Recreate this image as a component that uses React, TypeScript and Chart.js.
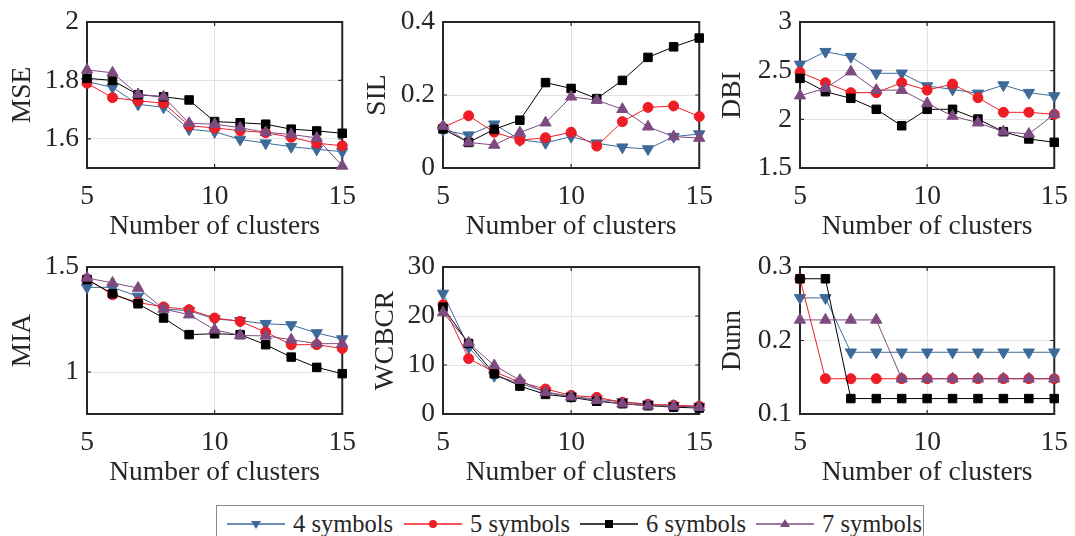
import React, { useEffect, useRef } from 'react';
import { Chart, registerables } from 'chart.js';
Chart.register(...registerables);

// ---------------- data ----------------
const clusters = [5, 6, 7, 8, 9, 10, 11, 12, 13, 14, 15];
const xTicks = [5, 10, 15];
const seriesNames = ['4 symbols', '5 symbols', '6 symbols', '7 symbols'];

const mse4 = [1.796, 1.776, 1.718, 1.708, 1.633, 1.624, 1.598, 1.585, 1.573, 1.564, 1.556];
const mse5 = [1.790, 1.741, 1.730, 1.722, 1.645, 1.637, 1.628, 1.621, 1.605, 1.585, 1.576];
const mse6 = [1.807, 1.800, 1.751, 1.744, 1.733, 1.659, 1.655, 1.650, 1.633, 1.627, 1.619];
const mse7 = [1.836, 1.826, 1.752, 1.744, 1.653, 1.650, 1.638, 1.622, 1.615, 1.603, 1.507];
const mseTicks = [1.6, 1.8, 2];

const sil4 = [0.104, 0.090, 0.120, 0.077, 0.069, 0.086, 0.068, 0.057, 0.052, 0.086, 0.093];
const sil5 = [0.111, 0.143, 0.098, 0.076, 0.083, 0.098, 0.060, 0.127, 0.166, 0.170, 0.141];
const sil6 = [0.107, 0.070, 0.106, 0.131, 0.234, 0.218, 0.190, 0.240, 0.303, 0.332, 0.356];
const sil7 = [0.115, 0.070, 0.063, 0.097, 0.124, 0.195, 0.186, 0.161, 0.113, 0.086, 0.082];
const silTicks = [0, 0.2, 0.4];

const dbi4 = [2.565, 2.695, 2.644, 2.473, 2.473, 2.342, 2.308, 2.267, 2.352, 2.274, 2.240];
const dbi5 = [2.483, 2.376, 2.274, 2.274, 2.376, 2.300, 2.363, 2.222, 2.072, 2.072, 2.051];
const dbi6 = [2.421, 2.284, 2.216, 2.103, 1.934, 2.103, 2.103, 2.003, 1.873, 1.798, 1.764];
const dbi7 = [2.243, 2.319, 2.490, 2.300, 2.300, 2.164, 2.034, 1.965, 1.873, 1.849, 2.051];
const dbiTicks = [1.5, 2, 2.5, 3];

const mia4 = [1.403, 1.403, 1.360, 1.300, 1.292, 1.252, 1.244, 1.230, 1.224, 1.186, 1.157];
const mia5 = [1.443, 1.368, 1.331, 1.310, 1.297, 1.257, 1.241, 1.190, 1.130, 1.130, 1.112];
const mia6 = [1.440, 1.373, 1.325, 1.257, 1.178, 1.182, 1.178, 1.130, 1.071, 1.022, 0.992];
const mia7 = [1.448, 1.424, 1.400, 1.300, 1.273, 1.201, 1.174, 1.172, 1.154, 1.135, 1.135];
const miaTicks = [1, 1.5];

const wcb4 = [24.6, 13.6, 7.8, 6.3, 4.5, 3.6, 3.0, 2.5, 2.0, 1.7, 1.5];
const wcb5 = [22.3, 11.3, 8.6, 6.5, 5.1, 3.8, 3.4, 2.4, 2.0, 1.8, 1.6];
const wcb6 = [21.8, 14.4, 8.2, 5.7, 4.0, 3.4, 2.6, 2.1, 1.7, 1.4, 1.2];
const wcb7 = [20.7, 14.5, 9.9, 6.9, 4.4, 3.5, 2.8, 2.1, 1.7, 1.6, 1.4];
const wcbTicks = [0, 10, 20, 30];

const dunn4 = [0.258, 0.258, 0.184, 0.184, 0.184, 0.184, 0.184, 0.184, 0.184, 0.184, 0.184];
const dunn5 = [0.284, 0.148, 0.148, 0.148, 0.148, 0.148, 0.148, 0.148, 0.148, 0.148, 0.148];
const dunn6 = [0.284, 0.284, 0.121, 0.121, 0.121, 0.121, 0.121, 0.121, 0.121, 0.121, 0.121];
const dunn7 = [0.228, 0.228, 0.228, 0.228, 0.148, 0.148, 0.148, 0.148, 0.148, 0.148, 0.148];
const dunnTicks = [0.1, 0.2, 0.3];

// ---------------- styles ----------------
const COLORS = ['#3d6a99', '#ee1c24', '#000000', '#7e4b81'];
const POINT_STYLES = ['triangle', 'circle', 'rect', 'triangle'];
const POINT_ROT = [180, 0, 0, 0];
const POINT_R = [6.5, 5, 6, 6.5];
const ORDERS = [3, 2, 1, 0];
const FONT = "'Liberation Serif', 'Times New Roman', Times, serif";
const TEXT = '#262626';
const FS = 27.5;

const Y_W = 86;
const PAD_T = 30;
const PAD_R = 24;
const X_H = 80;

type Panel = {
  label: string;
  series: number[][];
  yMin: number;
  yMax: number;
  yTicks: number[];
  left: number;
  top: number;
  w: number;
  h: number;
  gap: number;
};

const ROW1 = { top: 22, h: 146 };
const ROW2 = { top: 267, h: 147 };
const COL = [
  { left: 87, w: 260 },
  { left: 443, w: 261 },
  { left: 800, w: 259 },
];

const panels: Panel[] = [
  { label: 'MSE', series: [mse4, mse5, mse6, mse7], yMin: 1.5, yMax: 2, yTicks: mseTicks, ...COL[0], ...ROW1, gap: 64.5 },
  { label: 'SIL', series: [sil4, sil5, sil6, sil7], yMin: 0, yMax: 0.4, yTicks: silTicks, ...COL[1], ...ROW1, gap: 65 },
  { label: 'DBI', series: [dbi4, dbi5, dbi6, dbi7], yMin: 1.5, yMax: 3, yTicks: dbiTicks, ...COL[2], ...ROW1, gap: 67 },
  { label: 'MIA', series: [mia4, mia5, mia6, mia7], yMin: 0.8, yMax: 1.5, yTicks: miaTicks, ...COL[0], ...ROW2, gap: 64.5 },
  { label: 'WCBCR', series: [wcb4, wcb5, wcb6, wcb7], yMin: 0, yMax: 30, yTicks: wcbTicks, ...COL[1], ...ROW2, gap: 57.5 },
  { label: 'Dunn', series: [dunn4, dunn5, dunn6, dunn7], yMin: 0.1, yMax: 0.3, yTicks: dunnTicks, ...COL[2], ...ROW2, gap: 67 },
];

const boxPlugin = {
  id: 'matlabBox',
  beforeDatasetsDraw(chart: any) {
    const { ctx, chartArea: a, scales } = chart;
    ctx.save();
    ctx.strokeStyle = TEXT;
    ctx.lineWidth = 1.2;
    const tl = 4;
    ctx.beginPath();
    scales.x.ticks.forEach((t: any) => {
      const px = scales.x.getPixelForValue(t.value);
      if (px > a.left + 2 && px < a.right - 2) {
        ctx.moveTo(px, a.top); ctx.lineTo(px, a.top + tl);
        ctx.moveTo(px, a.bottom); ctx.lineTo(px, a.bottom - tl);
      }
    });
    scales.y.ticks.forEach((t: any) => {
      const py = scales.y.getPixelForValue(t.value);
      if (py > a.top + 2 && py < a.bottom - 2) {
        ctx.moveTo(a.left, py); ctx.lineTo(a.left + tl, py);
        ctx.moveTo(a.right, py); ctx.lineTo(a.right - tl, py);
      }
    });
    ctx.stroke();
    ctx.lineWidth = 2;
    ctx.strokeRect(a.left, a.top, a.right - a.left, a.bottom - a.top);
    ctx.restore();
  },
};

function PanelChart({ p }: { p: Panel }) {
  const ref = useRef<HTMLCanvasElement>(null);
  const cw = Y_W + p.w + PAD_R;
  const ch = PAD_T + p.h + X_H;
  useEffect(() => {
    if (!ref.current) return;
    const datasets = p.series.map((s, i) => ({
      label: seriesNames[i],
      data: clusters.map((c, j) => ({ x: c, y: s[j] })),
      borderColor: COLORS[i],
      backgroundColor: COLORS[i],
      pointBackgroundColor: COLORS[i],
      pointBorderColor: COLORS[i],
      borderWidth: 1,
      pointBorderWidth: 1,
      pointStyle: POINT_STYLES[i],
      pointRotation: POINT_ROT[i],
      pointRadius: POINT_R[i],
      order: ORDERS[i],
      clip: false as any,
      tension: 0,
    }));
    const chart = new Chart(ref.current, {
      type: 'line',
      data: { datasets },
      plugins: [boxPlugin],
      options: {
        animation: false,
        responsive: false,
        maintainAspectRatio: false,
        events: [],
        layout: { padding: { top: PAD_T, right: PAD_R, left: 0, bottom: 0 } },
        plugins: { legend: { display: false }, tooltip: { enabled: false } },
        scales: {
          x: {
            type: 'linear',
            min: 5,
            max: 15,
            afterBuildTicks: (s: any) => { s.ticks = xTicks.map((v) => ({ value: v })); },
            afterFit: (s: any) => { s.height = X_H; },
            grid: { color: '#e3e3e3', lineWidth: 1, drawTicks: false },
            border: { display: false },
            ticks: {
              padding: 15,
              maxRotation: 0,
              autoSkip: false,
              color: TEXT,
              font: { family: FONT, size: FS, lineHeight: 1 },
              callback: (v: any) => String(v),
            },
            title: {
              display: true,
              text: 'Number of clusters',
              color: TEXT,
              font: { family: FONT, size: FS, lineHeight: 1 },
              padding: { top: 0, bottom: X_H - 58.5 - FS / 2 },
            },
          },
          y: {
            type: 'linear',
            min: p.yMin,
            max: p.yMax,
            afterBuildTicks: (s: any) => { s.ticks = p.yTicks.map((v) => ({ value: v })); },
            afterFit: (s: any) => { s.width = Y_W; },
            grid: { color: '#e3e3e3', lineWidth: 1, drawTicks: false },
            border: { display: false },
            ticks: {
              padding: 8,
              autoSkip: false,
              color: TEXT,
              font: { family: FONT, size: FS, lineHeight: 1 },
              callback: (v: any) => String(v),
            },
            title: {
              display: true,
              text: p.label,
              color: TEXT,
              font: { family: FONT, size: FS, lineHeight: 1 },
              padding: { top: Y_W - p.gap - FS / 2, bottom: 0 },
            },
          },
        },
      } as any,
    });
    return () => chart.destroy();
  }, []);
  return (
    <canvas
      ref={ref}
      width={cw}
      height={ch}
      style={{ position: 'absolute', left: p.left - Y_W, top: p.top - PAD_T, width: cw, height: ch }}
    />
  );
}

function Marker({ i }: { i: number }) {
  const c = COLORS[i];
  const cx = 29, cy = 10;
  let shape: any;
  if (i === 0) shape = <polygon points={`${cx - 5},${cy - 3} ${cx + 5},${cy - 3} ${cx},${cy + 5}`} fill={c} />;
  else if (i === 1) shape = <circle cx={cx} cy={cy} r={4} fill={c} />;
  else if (i === 2) shape = <rect x={cx - 4} y={cy - 4} width={8} height={8} fill={c} />;
  else shape = <polygon points={`${cx - 5},${cy + 3} ${cx + 5},${cy + 3} ${cx},${cy - 5}`} fill={c} />;
  return (
    <svg width={58} height={20} style={{ position: 'absolute', left: 0, top: 8 }}>
      <line x1={0} y1={cy} x2={58} y2={cy} stroke={c} strokeWidth={1.5} />
      {shape}
    </svg>
  );
}

function Legend() {
  const starts = [10, 187, 363, 539];
  return (
    <div
      style={{
        position: 'absolute',
        left: 216,
        top: 505,
        width: 708,
        height: 45,
        border: '1px solid #8a8a8a',
        boxSizing: 'border-box',
        background: '#fff',
      }}
    >
      {seriesNames.map((n, i) => (
        <div key={n} style={{ position: 'absolute', left: starts[i], top: 0, height: 40, width: 170 }}>
          <Marker i={i} />
          <span
            style={{
              position: 'absolute',
              left: 66,
              top: 4,
              fontFamily: FONT,
              fontSize: 24.5,
              lineHeight: '28px',
              color: TEXT,
              whiteSpace: 'nowrap',
            }}
          >
            {n}
          </span>
        </div>
      ))}
    </div>
  );
}

export default function App() {
  return (
    <div style={{ position: 'absolute', left: 0, top: 0, width: 1075, height: 536, overflow: 'hidden', background: '#fff' }}>
      {panels.map((p) => (
        <PanelChart key={p.label} p={p} />
      ))}
      <Legend />
    </div>
  );
}
